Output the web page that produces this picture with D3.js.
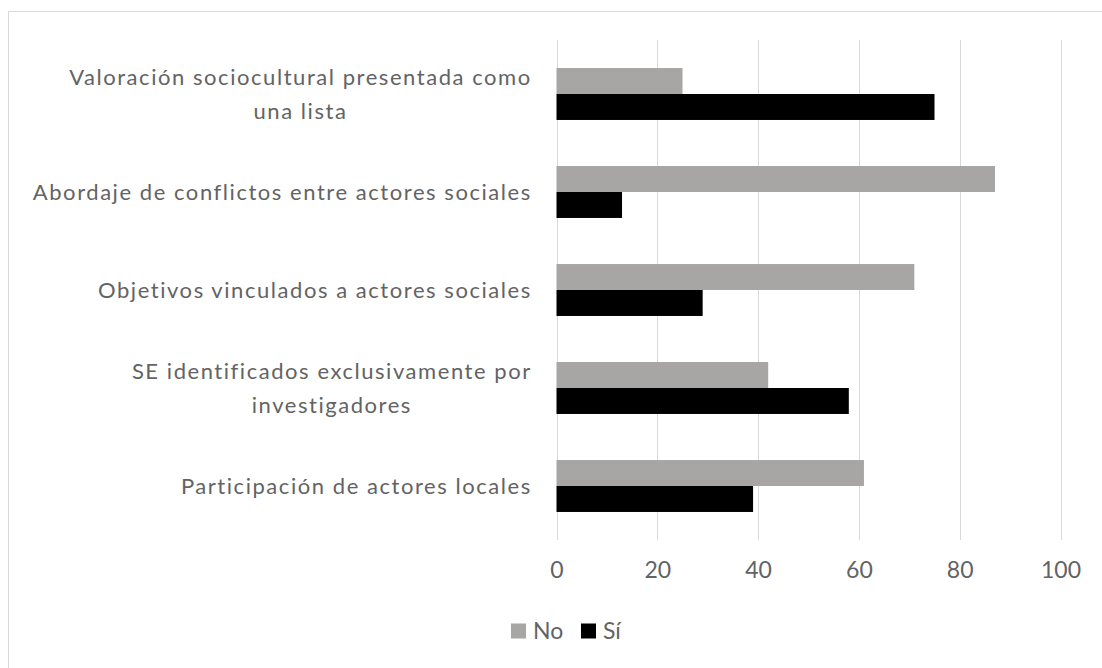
<!DOCTYPE html>
<html><head><meta charset="utf-8">
<script src="https://cdn.jsdelivr.net/npm/d3@7"></script>
<style>
html,body{margin:0;padding:0;background:#fff;}
svg{display:block;font-family:Lato, "Open Sans", sans-serif;}
</style></head>
<body>
<svg id="chart" width="1102" height="668"></svg>
<script>
const categories = [
  ["Valoración sociocultural presentada como", "una lista"],
  ["Abordaje de conflictos entre actores sociales"],
  ["Objetivos vinculados a actores sociales"],
  ["SE identificados exclusivamente por", "investigadores"],
  ["Participación de actores locales"]
];
const seriesNames = ["No", "Sí"];
const seriesColors = ["#a8a6a5", "#000000"];
const noValues = [25, 87, 71, 42, 61];
const siValues = [75, 13, 29, 58, 39];
const tickValues = [0, 20, 40, 60, 80, 100];

const svg = d3.select("#chart");
const textColor = "#636363";
const catFont = 22, tickFont = 23, legFont = 23;

// outer border
svg.append("rect").attr("x", 8.5).attr("y", 11.5).attr("width", 1110).attr("height", 670)
  .attr("fill", "#fff").attr("stroke", "#d9d9d9").attr("stroke-width", 1);

const x = d3.scaleLinear().domain([0, 100]).range([556.5, 1060.5]);
const keys = categories.map((c, i) => i);
const y = d3.scaleBand().domain(keys).range([45, 535]).paddingInner(0.47).paddingOuter(0.235);
const ySub = d3.scaleBand().domain(seriesNames).range([0, y.bandwidth()]);

// gridlines
const xAxis = d3.axisBottom(x).tickValues(tickValues).tickSize(0).tickPadding(0);
const grid = svg.append("g");
grid.selectAll("line").data(tickValues).join("line")
  .attr("x1", d => Math.round(x(d)) + 0.5).attr("x2", d => Math.round(x(d)) + 0.5)
  .attr("y1", 40).attr("y2", 540).attr("stroke", "#d9d9d9").attr("stroke-width", 1);

// axis labels
const ax = svg.append("g").attr("transform", "translate(0,570)").call(xAxis);
ax.select(".domain").remove();
ax.selectAll("text").attr("fill", textColor).attr("font-size", tickFont)
  .attr("font-family", "Lato").attr("dy", "0.35em").attr("y", 0);

// bars
const series = [noValues, siValues];
series.forEach((vals, si) => {
  svg.append("g").selectAll("rect").data(vals).join("rect")
    .attr("x", x(0))
    .attr("y", (d, i) => y(i) + ySub(seriesNames[si]))
    .attr("width", d => x(d) - x(0))
    .attr("height", ySub.bandwidth())
    .attr("fill", seriesColors[si]);
});

// category labels
const labelRight = 531;
const lineGap = 34;
const spacing = 1.55;
categories.forEach((lines, i) => {
  const cy = y(i) + y.bandwidth() / 2;
  const g = svg.append("g");
  const texts = lines.map((ln, k) => g.append("text")
    .attr("font-size", catFont).attr("fill", textColor)
    .attr("letter-spacing", spacing)
    .attr("text-anchor", "middle")
    .attr("y", cy + (k - (lines.length - 1) / 2) * lineGap)
    .attr("dy", "0.35em").text(ln));
  const maxW = d3.max(texts, t => t.node().getComputedTextLength());
  texts.forEach(t => t.attr("x", labelRight - maxW / 2 + spacing / 2));
});

// legend
const leg = svg.append("g").attr("transform", "translate(0,631)");
const legItems = [{x: 511, name: "No", c: seriesColors[0]}, {x: 581, name: "Sí", c: seriesColors[1]}];
legItems.forEach(it => {
  leg.append("rect").attr("x", it.x).attr("y", -7.5).attr("width", 15).attr("height", 15).attr("fill", it.c);
  leg.append("text").attr("x", it.x + 22).attr("y", 0).attr("dy", "0.35em")
    .attr("font-size", legFont).attr("fill", textColor).text(it.name);
});
</script>
</body></html>
